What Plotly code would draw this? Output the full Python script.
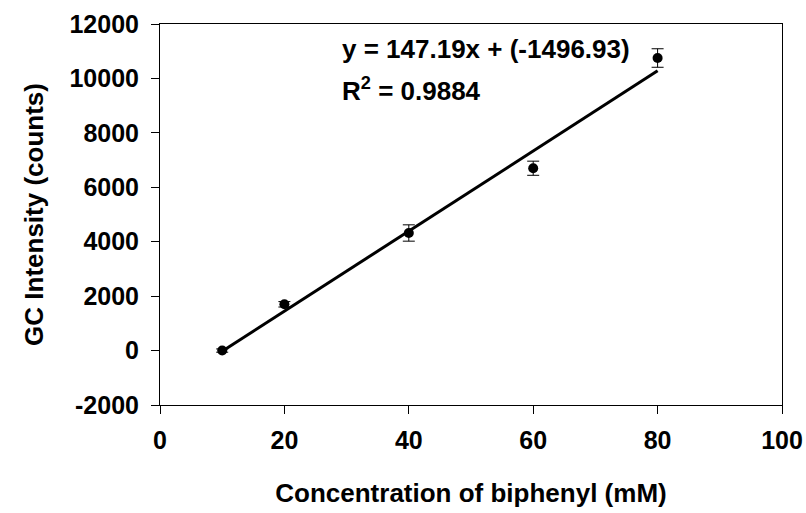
import plotly.graph_objects as go

conc = [10, 20, 40, 60, 80]
intensity = [0, 1700, 4320, 6700, 10750]
err = [60, 100, 300, 260, 340]
slope = 147.19
intercept = -1496.93
r2 = 0.9884
xticks = [0, 20, 40, 60, 80, 100]
yticks = [-2000, 0, 2000, 4000, 6000, 8000, 10000, 12000]

font = "Liberation Sans, Arial, sans-serif"

fit_x = [min(conc), max(conc)]
fit_y = [slope * v + intercept for v in fit_x]

fig = go.Figure()
fig.add_trace(go.Scatter(x=fit_x, y=fit_y, mode="lines",
                         line=dict(color="black", width=3), showlegend=False))
fig.add_trace(go.Scatter(x=conc, y=intensity, mode="markers",
                         marker=dict(color="black", size=10),
                         error_y=dict(type="data", array=err, color="black",
                                      thickness=1, width=6),
                         showlegend=False))

fig.add_annotation(x=28.9, y=11080, xref="x", yref="y", xanchor="left", yanchor="middle",
                   text=f"<b>y = {slope}x + ({intercept})</b>", showarrow=False,
                   font=dict(family=font, size=26, color="black"))
fig.add_annotation(x=28.9, y=9600, xref="x", yref="y", xanchor="left", yanchor="middle",
                   text=f"<b>R<sup>2</sup> = {r2}</b>", showarrow=False,
                   font=dict(family=font, size=26, color="black"))

axis_common = dict(showgrid=False, zeroline=False, showline=True, linecolor="black",
                   linewidth=1, mirror=True, ticks="outside", ticklen=8, automargin=False,
                   tickcolor="black", tickfont=dict(family=font, size=25, color="black"))

fig.update_xaxes(range=[0, 100], tickvals=xticks, ticktext=[f"<b>{v}</b>" for v in xticks],
                 ticklabelstandoff=5,
                 title=dict(text="<b>Concentration of biphenyl (mM)</b>",
                            font=dict(family=font, size=26, color="black"), standoff=30),
                 **axis_common)
fig.update_yaxes(range=[-2000, 12000], tickvals=yticks, ticktext=[f"<b>{v}</b>" for v in yticks],
                 ticklabelstandoff=7,
                 title=dict(text="<b>GC Intensity (counts)</b>",
                            font=dict(family=font, size=26, color="black"), standoff=18),
                 **axis_common)

fig.update_layout(width=806, height=513, margin=dict(l=160, r=24, t=24, b=108),
                  plot_bgcolor="white", paper_bgcolor="white")
fig.write_html("out.html")
